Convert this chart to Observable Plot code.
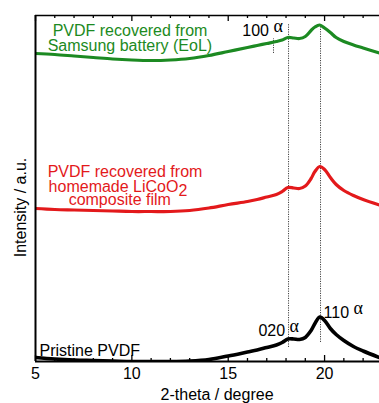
<!DOCTYPE html>
<html><head><meta charset="utf-8">
<script src="https://cdn.jsdelivr.net/npm/d3@7"></script>
<script src="https://cdn.jsdelivr.net/npm/@observablehq/plot@0.6"></script>
<style>html,body{margin:0;padding:0;background:#fff}svg{display:block}</style>
</head><body><div id="chart"></div>
<script>
// 2-theta sample positions (degree)
const twoTheta = [5, 6, 7, 8, 9, 10, 11, 12, 13, 14, 15, 16, 16.5, 17, 17.5, 17.8, 18.1, 18.4, 18.7, 19.0, 19.3, 19.5, 19.75, 20.0, 20.3, 20.6, 21.0, 21.5, 22.0, 22.85];
// intensities (a.u., offset traces)
const pristine = [4, 2.5, 1.5, 1, 0.5, 0, 0, 0, 0.5, 2, 5.5, 9.5, 11.5, 14, 16.5, 19, 22.5, 22.5, 22, 24, 31, 38, 44.5, 41, 33, 27, 21, 15, 10.5, 4];
const licoo2 = [153, 152, 151.5, 151, 150.5, 150, 150, 150, 151, 153.5, 157, 160, 162, 164.5, 167, 170, 174, 173.5, 173, 175.5, 183, 190, 195, 192, 184, 177, 171, 166, 162, 156.5];
const samsung = [308, 307, 305.5, 304, 302.5, 301.5, 301, 301.5, 303, 306, 310, 314, 316, 318, 320, 321.5, 324, 323.5, 323, 325, 331, 334.5, 336.5, 333.5, 329, 324, 320, 316.5, 313.5, 308.5];

const majorTicks = [5, 10, 15, 20];
const minorTicks = [5, 6, 7, 8, 9, 10, 11, 12, 13, 14, 15, 16, 17, 18, 19, 20, 21, 22];

// reflection guide lines (2-theta, intensity range)
const peakX = [18.13, 19.79, 17.35];
const peakY1 = [14, 19, 308];
const peakY2 = [338, 338, 323];

// annotation texts (data coordinates, baseline)
const labelText = ["PVDF recovered from", "Samsung battery (EoL)", "PVDF recovered from", "homemade LiCoO2", "composite film", "Pristine PVDF", "100 α", "020 α", "110 α"];
const labelX = [5.89, 5.63, 5.63, 5.68, 6.72, 5.21, 15.73, 16.57, 19.95];
const labelY = [326, 311, 184.3, 169.3, 156.7, 6, 326, 26, 44];
const labelColor = ["#1c8a22", "#1c8a22", "#e3191b", "#e3191b", "#e3191b", "#000", "#000", "#000", "#000"];

const xTitle = "2-theta / degree";
const yTitle = "Intensity / a.u.";

const curve = (vals) => twoTheta.map((x, i) => ({x, y: vals[i]}));
const guides = peakX.map((x, i) => ({x, y1: peakY1[i], y2: peakY2[i]}));
const labels = labelText.map((t, i) => ({text: t, x: labelX[i], y: labelY[i], color: labelColor[i]}));

const chart = Plot.plot({
  width: 379, height: 403,
  marginLeft: 35, marginRight: 0, marginTop: 15, marginBottom: 42,
  style: {fontFamily: "'Liberation Sans', Arial, sans-serif", fontSize: "16px", background: "#fff", overflow: "visible"},
  x: {domain: [5, 22.85]},
  y: {domain: [0, 346], axis: null},
  marks: [
    Plot.ruleX(guides, {x: "x", y1: "y1", y2: "y2", stroke: "#444", strokeWidth: 1, strokeDasharray: "1.2,1.2"}),
    Plot.line(curve(samsung), {x: "x", y: "y", stroke: "#1c8a22", strokeWidth: 3.2, curve: "catmull-rom", clip: true}),
    Plot.line(curve(licoo2), {x: "x", y: "y", stroke: "#e3191b", strokeWidth: 3.2, curve: "catmull-rom", clip: true}),
    Plot.line(curve(pristine), {x: "x", y: "y", stroke: "#000", strokeWidth: 3.6, curve: "catmull-rom", clip: true}),
    Plot.ruleX(minorTicks, {x: d => d, y1: 0, y2: d => majorTicks.includes(d) ? 6 : 3, strokeWidth: 1.3}),
    Plot.ruleX(minorTicks, {x: d => d, y1: 346, y2: d => majorTicks.includes(d) ? 340 : 343, strokeWidth: 1.3}),
    Plot.ruleX([5], {strokeWidth: 2}),
    Plot.ruleY([0], {strokeWidth: 2}),
    Plot.ruleY([346], {strokeWidth: 1.5}),
    Plot.axisX({ticks: majorTicks, tickSize: 0, tickPadding: 6, fontSize: 16, label: null, tickFormat: d => String(d)}),
    Plot.text(labels, {x: "x", y: "y", text: "text", fill: "color", textAnchor: "start", lineAnchor: "bottom", fontSize: 16}),
    Plot.text([xTitle], {x: 14.42, y: -38, text: d => d, textAnchor: "middle", lineAnchor: "bottom", fontSize: 16}),
    Plot.text([yTitle], {x: 4.22, y: 154, text: d => d, rotate: -90, textAnchor: "middle", lineAnchor: "middle", fontSize: 16})
  ]
});

const ns = "http://www.w3.org/2000/svg";
chart.querySelectorAll("text").forEach(t => {
  const s = t.textContent;
  if (s.endsWith("α") && t.children.length === 0) {
    t.textContent = s.slice(0, -1);
    const ts = document.createElementNS(ns, "tspan");
    ts.setAttribute("dy", "-4");
    ts.setAttribute("font-family", "'Liberation Serif', 'DejaVu Serif', serif");
    ts.setAttribute("font-size", "18");
    ts.textContent = "α";
    t.appendChild(ts);
  } else if (s === "homemade LiCoO2") {
    t.textContent = "homemade LiCoO";
    const ts = document.createElementNS(ns, "tspan");
    ts.setAttribute("dy", "3.5");
    ts.textContent = "2";
    t.appendChild(ts);
  }
});
document.getElementById("chart").appendChild(chart);
</script>
</body></html>
